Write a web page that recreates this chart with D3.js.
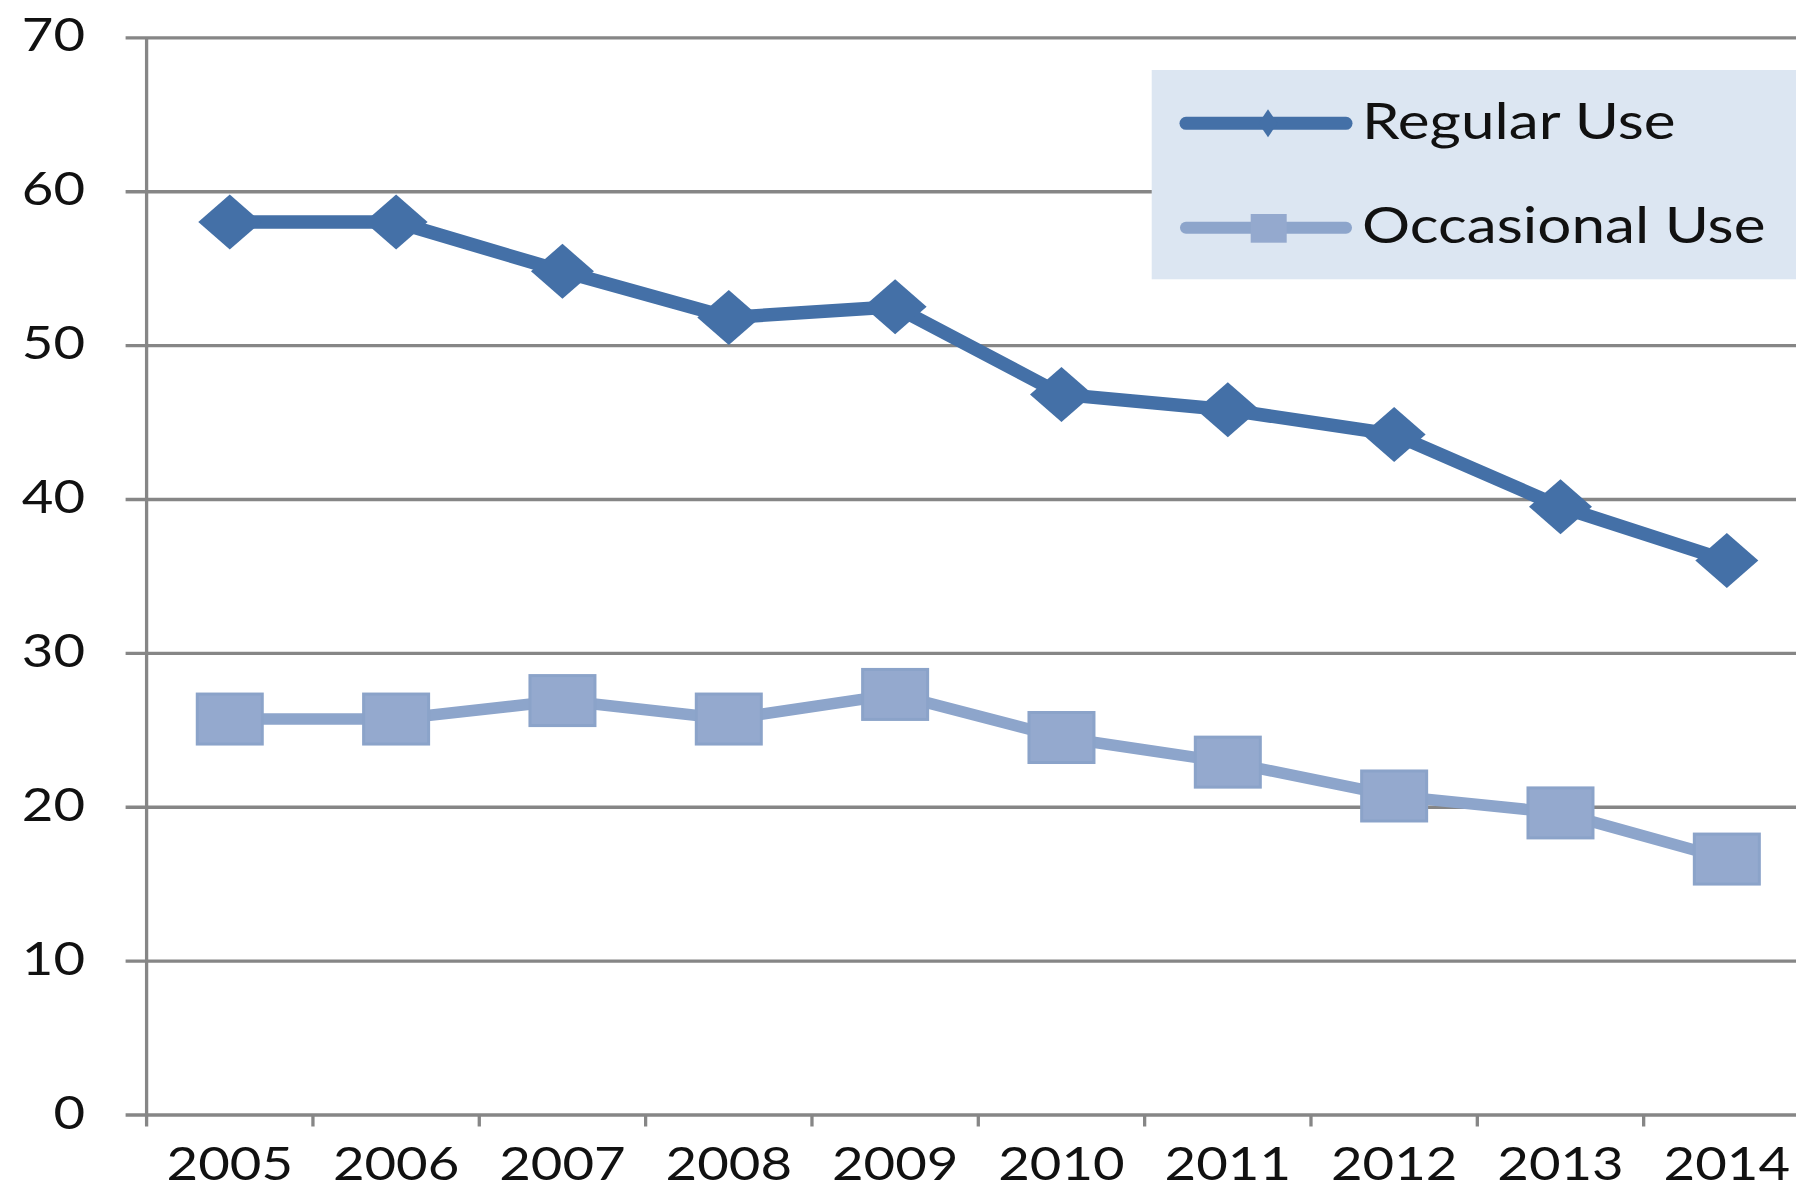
<!DOCTYPE html>
<html>
<head>
<meta charset="utf-8">
<script src="https://cdn.jsdelivr.net/npm/d3@7/dist/d3.min.js"></script>
<style>
  html, body { margin: 0; padding: 0; background: #fff; }
  svg { display: block; }
  text { font-family: Lato, "Noto Sans", sans-serif; fill: #111; }
</style>
</head>
<body>
<svg id="chart" width="1796" height="1191"></svg>
<script>
// data
var years = ["2005", "2006", "2007", "2008", "2009", "2010", "2011", "2012", "2013", "2014"];
var regularUse = [58.0, 58.0, 54.8, 51.8, 52.5, 46.8, 45.8, 44.2, 39.5, 36.0];
var occasionalUse = [25.7, 25.7, 26.9, 25.7, 27.3, 24.5, 22.9, 20.7, 19.6, 16.6];
var yTicks = [0, 10, 20, 30, 40, 50, 60, 70];
var seriesNames = ["Regular Use", "Occasional Use"];

var width = 1796, height = 1191;
var axisX = 146.6, plotRight = 1810, plotTop = 37.4, plotBottom = 1114.5;
var stretch = 1.16; // the original text is drawn wide
var gridColor = "#868686";
var regColor = "#4470a7", occLine = "#8da5cb", occFill = "#94a9ce";

var svg = d3.select("#chart");

var x = d3.scaleBand().domain(years).range([axisX, plotRight]).padding(0);
var y = d3.scaleLinear().domain([0, 70]).range([plotBottom, plotTop]);
var cx = function(d) { return x(d) + x.bandwidth() / 2; };

// y axis with gridlines
var yAxis = svg.append("g")
  .attr("transform", "translate(" + axisX + ",0)")
  .call(d3.axisLeft(y).tickValues(yTicks).tickSizeInner(-(plotRight - axisX)).tickSizeOuter(0));
yAxis.select(".domain").remove();
yAxis.selectAll("line")
  .attr("x1", -21)
  .attr("stroke", gridColor)
  .attr("stroke-width", 3.3);
yAxis.selectAll("text")
  .attr("x", -61.6 / stretch)
  .attr("dy", "0.33em")
  .attr("transform", "translate(0,-2) scale(" + stretch + ",1)")
  .style("font-size", "47px")
  .style("font-family", "Lato, 'Noto Sans', sans-serif")
  .attr("fill", "#111");

// vertical axis line
svg.append("line")
  .attr("x1", axisX).attr("x2", axisX)
  .attr("y1", plotTop).attr("y2", plotBottom + 1.5)
  .attr("stroke", gridColor).attr("stroke-width", 3.3);

// x axis labels
var xAxis = svg.append("g")
  .attr("transform", "translate(0," + plotBottom + ")")
  .call(d3.axisBottom(x).tickSize(0));
xAxis.select(".domain").remove();
xAxis.selectAll("text")
  .attr("y", 66)
  .attr("dy", 0)
  .attr("transform", "scale(" + stretch + ",1)")
  .style("font-size", "47px")
  .style("font-family", "Lato, 'Noto Sans', sans-serif")
  .attr("fill", "#111");

// x tick marks at category boundaries
svg.append("g").selectAll("line")
  .data(years)
  .join("line")
    .attr("x1", function(d) { return x(d); })
    .attr("x2", function(d) { return x(d); })
    .attr("y1", plotBottom)
    .attr("y2", plotBottom + 12)
    .attr("stroke", gridColor)
    .attr("stroke-width", 3.3);

// series lines
var line = d3.line()
  .x(function(d) { return cx(d.year); })
  .y(function(d) { return y(d.value); });

var occData = years.map(function(yr, i) { return { year: yr, value: occasionalUse[i] }; });
var regData = years.map(function(yr, i) { return { year: yr, value: regularUse[i] }; });

svg.append("path")
  .datum(occData)
  .attr("d", line)
  .attr("fill", "none")
  .attr("stroke", occLine)
  .attr("stroke-width", 11.5)
  .attr("stroke-linejoin", "round");

svg.selectAll(".sq")
  .data(occData)
  .join("rect")
    .attr("class", "sq")
    .attr("x", function(d) { return cx(d.year) - 32.5; })
    .attr("y", function(d) { return y(d.value) - 25; })
    .attr("width", 65)
    .attr("height", 50)
    .attr("fill", occFill)
    .attr("stroke", "#8ba3c9")
    .attr("stroke-width", 3);

svg.append("path")
  .datum(regData)
  .attr("d", line)
  .attr("fill", "none")
  .attr("stroke", regColor)
  .attr("stroke-width", 13.5)
  .attr("stroke-linejoin", "round");

function diamond(hw, hh) {
  return "M0," + (-hh) + "L" + hw + ",0L0," + hh + "L" + (-hw) + ",0Z";
}

svg.selectAll(".dm")
  .data(regData)
  .join("path")
    .attr("class", "dm")
    .attr("d", diamond(31.5, 27.5))
    .attr("transform", function(d) { return "translate(" + cx(d.year) + "," + y(d.value) + ")"; })
    .attr("fill", regColor);

// legend
var legend = svg.append("g");
legend.append("rect")
  .attr("x", 1151.7).attr("y", 70)
  .attr("width", 700).attr("height", 209.3)
  .attr("fill", "#dce6f2");

var legendRows = [
  { name: seriesNames[0], cy: 123.3, base: 139.3, color: regColor, w: 13 },
  { name: seriesNames[1], cy: 227.7, base: 242.7, color: occLine, w: 12 }
];

legend.selectAll(".lgl")
  .data(legendRows)
  .join("line")
    .attr("class", "lgl")
    .attr("x1", 1186).attr("x2", 1346)
    .attr("y1", function(d) { return d.cy; })
    .attr("y2", function(d) { return d.cy; })
    .attr("stroke", function(d) { return d.color; })
    .attr("stroke-width", function(d) { return d.w; })
    .attr("stroke-linecap", "round");

legend.append("path")
  .attr("d", diamond(9.5, 14))
  .attr("transform", "translate(1268," + legendRows[0].cy + ")")
  .attr("fill", regColor);

legend.append("rect")
  .attr("x", 1250.7).attr("y", 214)
  .attr("width", 36).attr("height", 28.7)
  .attr("fill", occFill);

legend.selectAll(".lgt")
  .data(legendRows)
  .join("text")
    .attr("class", "lgt")
    .attr("transform", function(d) { return "translate(1362," + d.base + ") scale(1.205,1)"; })
    .style("font-size", "50px")
    .text(function(d) { return d.name; });
</script>
</body>
</html>
